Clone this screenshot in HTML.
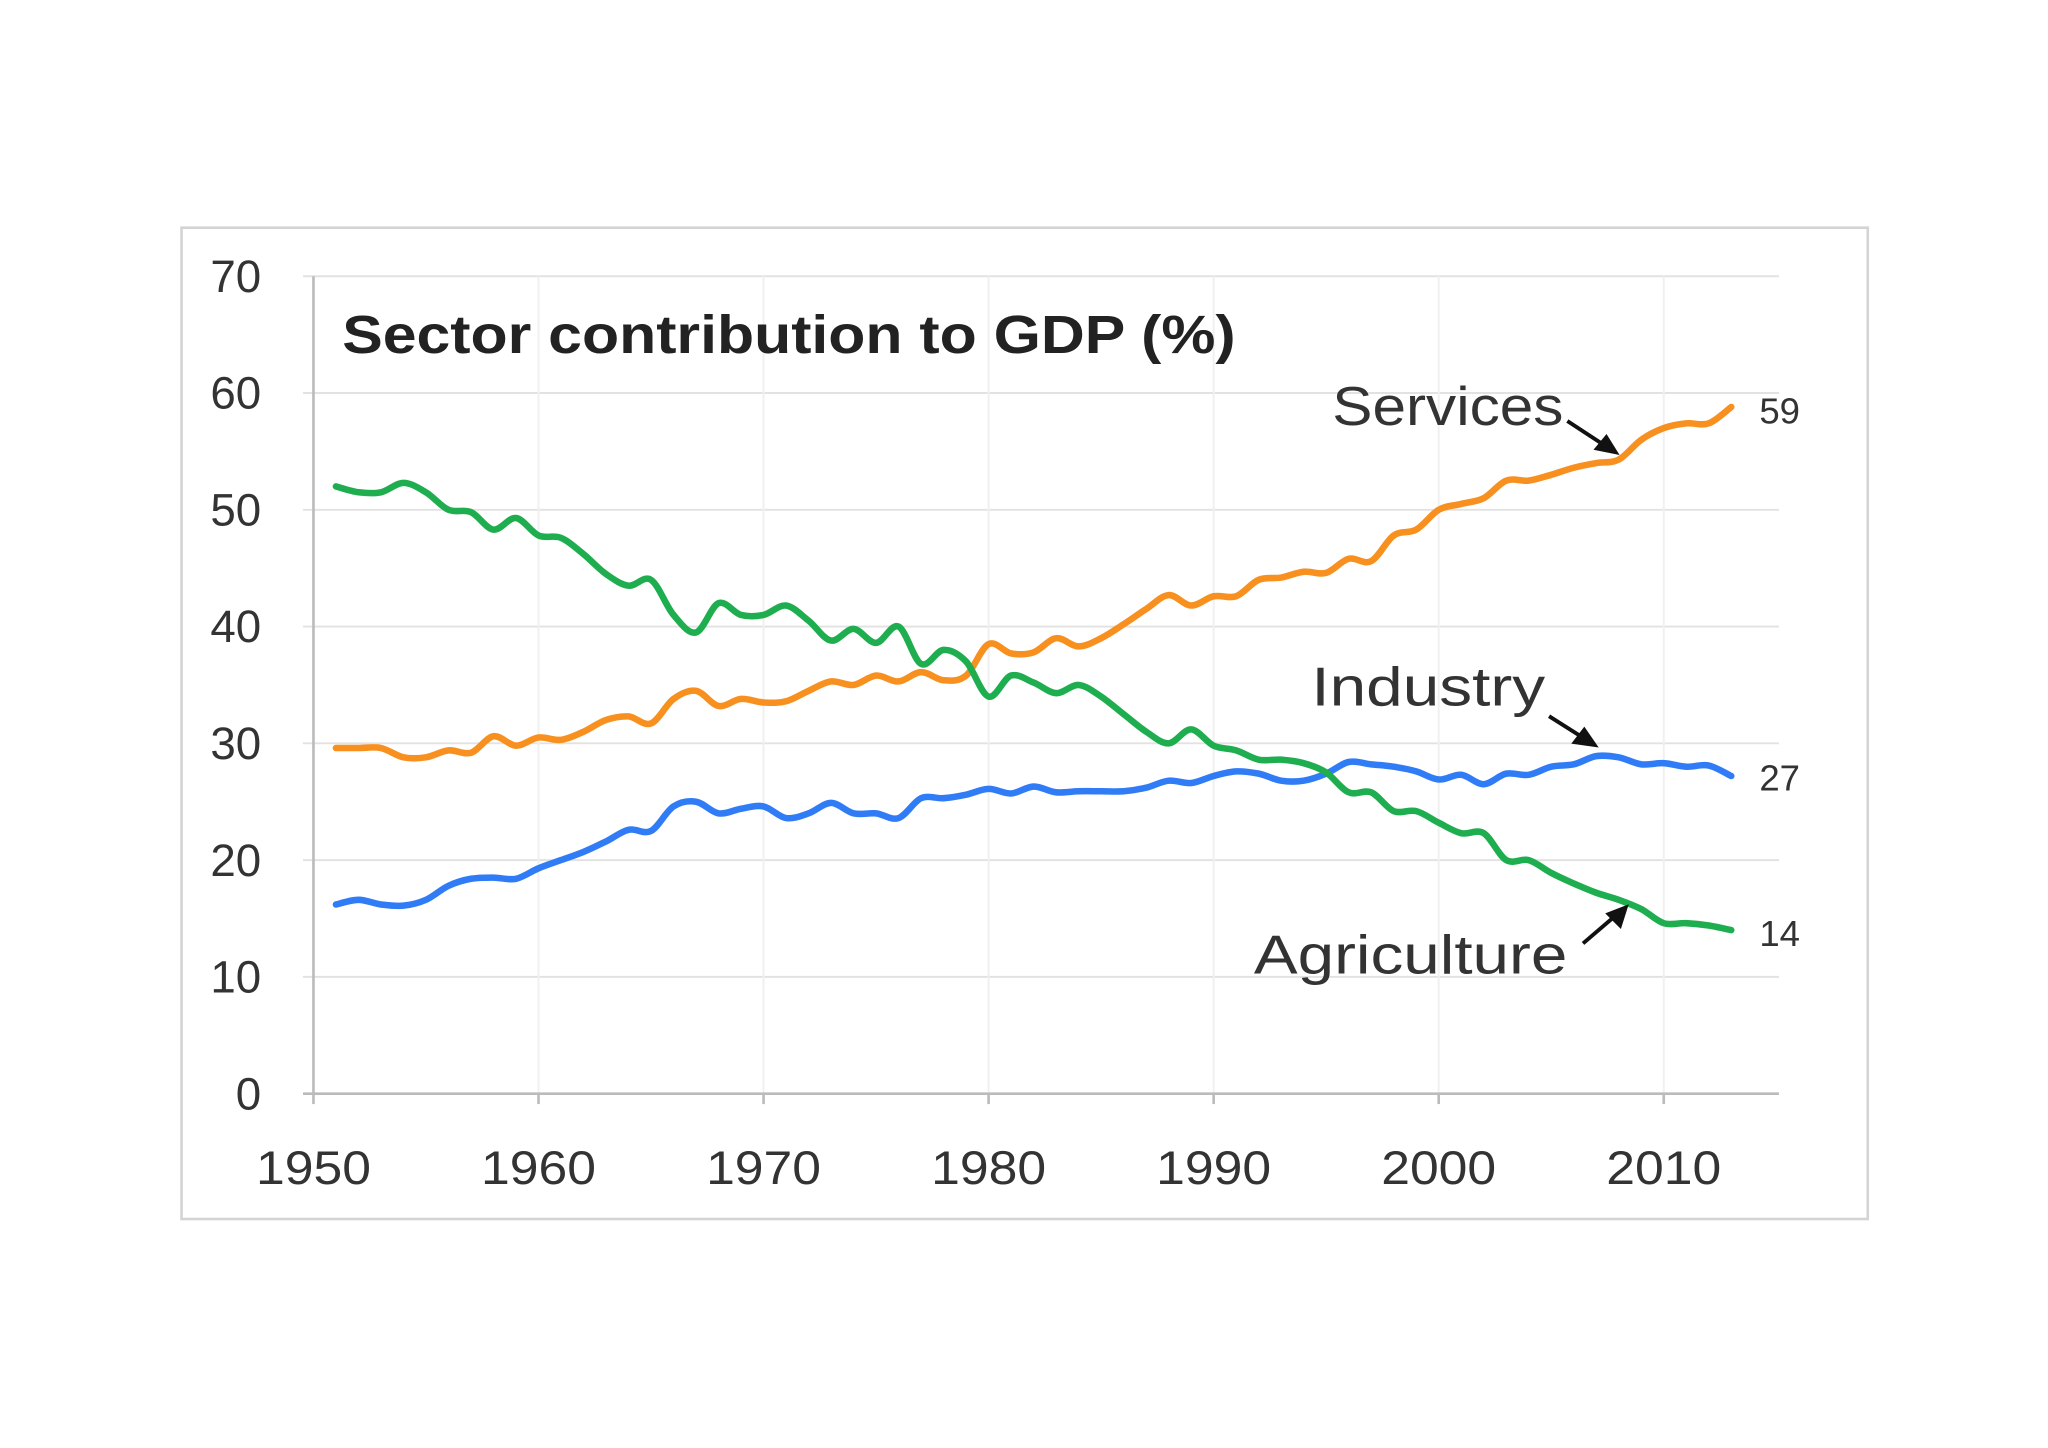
<!DOCTYPE html>
<html><head><meta charset="utf-8"><style>
html,body{margin:0;padding:0;background:#fff;}
svg{display:block;font-family:"Liberation Sans",sans-serif;}
</style></head><body>
<svg id="chart" width="2048" height="1448" viewBox="0 0 1568 1108" xmlns="http://www.w3.org/2000/svg">
<rect x="0" y="0" width="1568" height="1108" fill="#fff"/>
<rect x="139" y="174" width="1291" height="759" fill="#fff" stroke="#d4d4d4" stroke-width="2"/>
<g id="grid"></g>
<g id="axes"></g>
<g id="series"></g>
<text x="262" y="270" font-size="41" font-weight="bold" fill="#222" textLength="684" lengthAdjust="spacingAndGlyphs">Sector contribution to GDP (%)</text>
<g>
<text x="1020" y="325" font-size="42" fill="#333" textLength="177" lengthAdjust="spacingAndGlyphs">Services</text>
<line x1="1200" y1="322" x2="1232" y2="343" stroke="#111" stroke-width="3"/>
<polygon points="1240,348 1220,344 1230,332" fill="#111"/>
</g>
<g>
<text x="1004" y="540" font-size="42" fill="#333" textLength="179" lengthAdjust="spacingAndGlyphs">Industry</text>
<line x1="1186" y1="548" x2="1216" y2="567" stroke="#111" stroke-width="3"/>
<polygon points="1224,572 1203,569 1213,556" fill="#111"/>
</g>
<g>
<text x="960" y="745" font-size="42" fill="#333" textLength="240" lengthAdjust="spacingAndGlyphs">Agriculture</text>
<line x1="1212" y1="722" x2="1240" y2="698" stroke="#111" stroke-width="3"/>
<polygon points="1247,692 1241,711 1229,699" fill="#111"/>
</g>
<text x="1347" y="324" font-size="28" fill="#333">59</text>
<text x="1347" y="605" font-size="28" fill="#333">27</text>
<text x="1347" y="724" font-size="28" fill="#333">14</text>
</svg>
<script>
const years = [];
for (let y = 1951; y <= 2013; y++) years.push(y);
const agriculture = [52,51.5,51.5,52.3,51.5,50,49.8,48.3,49.3,47.8,47.6,46.2,44.5,43.5,44,41,39.5,42,41,41,41.8,40.5,38.8,39.8,38.6,40,36.8,38,37,34,35.8,35.2,34.3,35,34,32.5,31,30,31.2,29.8,29.4,28.6,28.6,28.3,27.5,25.8,25.8,24.2,24.2,23.2,22.3,22.3,20,20,18.9,18,17.2,16.6,15.8,14.6,14.6,14.4,14];
const services = [29.6,29.6,29.6,28.8,28.8,29.4,29.2,30.6,29.8,30.5,30.3,31,32,32.3,31.7,33.8,34.5,33.2,33.8,33.5,33.6,34.5,35.3,35,35.8,35.3,36.1,35.4,35.8,38.5,37.7,37.8,39,38.3,39,40.2,41.5,42.7,41.8,42.6,42.6,44,44.2,44.7,44.6,45.8,45.6,47.8,48.3,50,50.5,51,52.5,52.5,53,53.6,54,54.3,56,57,57.4,57.4,58.8];
const industry = [16.2,16.6,16.2,16.1,16.6,17.8,18.4,18.5,18.4,19.3,20,20.7,21.6,22.6,22.5,24.6,25,24,24.4,24.6,23.6,24,24.9,24,24,23.6,25.3,25.3,25.6,26.1,25.7,26.3,25.8,25.9,25.9,25.9,26.2,26.8,26.6,27.2,27.6,27.4,26.8,26.8,27.4,28.4,28.2,28,27.6,26.9,27.3,26.5,27.4,27.3,28,28.2,28.9,28.8,28.2,28.3,28,28.1,27.2];
const yTicks = [0,10,20,30,40,50,60,70];
const xTicks = [1950,1960,1970,1980,1990,2000,2010];

const NS = "http://www.w3.org/2000/svg";
const xs = yr => 240 + (yr - 1950) * 17.23;
const ys = v => 837 - v * 8.94;
function mk(tag, attrs, parent) {
  const e = document.createElementNS(NS, tag);
  for (const k in attrs) e.setAttribute(k, attrs[k]);
  parent.appendChild(e);
  return e;
}
const grid = document.getElementById('grid'), axes = document.getElementById('axes'), series = document.getElementById('series');
yTicks.forEach(t => {
  if (t > 0) {
    const l = mk('line', {x1: 232, x2: 1362, y1: ys(t), y2: ys(t), stroke: '#e2e2e2', 'stroke-width': 1.5}, grid);
    
    
  }
  const tx = mk('text', {x: 200, y: ys(t) + 12, 'font-size': 35, fill: '#333', 'text-anchor': 'end'}, axes);
  tx.textContent = t;
  
  
});
xTicks.forEach(t => {
  if (t > 1950) {
    const l = mk('line', {x1: xs(t), x2: xs(t), y1: ys(70), y2: ys(0), stroke: '#f0f0f0', 'stroke-width': 1.5}, grid);
    
    
  }
  const tk = mk('line', {x1: xs(t), x2: xs(t), y1: ys(0), y2: ys(0) + 8, stroke: '#bbb', 'stroke-width': 2}, axes);
  
  
  const tx = mk('text', {x: xs(t) - 44, y: 906, 'font-size': 36, fill: '#333', textLength: 88, lengthAdjust: 'spacingAndGlyphs'}, axes);
  tx.textContent = t;
  
  
});
const ya = mk('line', {x1: 240, x2: 240, y1: ys(70), y2: ys(0), stroke: '#bbb', 'stroke-width': 2}, axes);


const xa = mk('line', {x1: 232, x2: 1362, y1: ys(0), y2: ys(0), stroke: '#bbb', 'stroke-width': 2}, axes);


function drawLine(vals, color, name) {
  const pts = vals.map((v, i) => [xs(years[i]), ys(v)]);
  let d = 'M' + pts[0][0].toFixed(1) + ',' + pts[0][1].toFixed(1);
  for (let i = 0; i < pts.length - 1; i++) {
    const p0 = pts[Math.max(0, i - 1)], p1 = pts[i], p2 = pts[i + 1], p3 = pts[Math.min(pts.length - 1, i + 2)];
    const c1x = p1[0] + (p2[0] - p0[0]) / 6, c1y = p1[1] + (p2[1] - p0[1]) / 6;
    const c2x = p2[0] - (p3[0] - p1[0]) / 6, c2y = p2[1] - (p3[1] - p1[1]) / 6;
    d += ' C' + c1x.toFixed(1) + ',' + c1y.toFixed(1) + ' ' + c2x.toFixed(1) + ',' + c2y.toFixed(1) + ' ' + p2[0].toFixed(1) + ',' + p2[1].toFixed(1);
  }
  const p = mk('path', {d: d, fill: 'none', stroke: color, 'stroke-width': 5, 'stroke-linejoin': 'round', 'stroke-linecap': 'round'}, series);
  
  
}
drawLine(industry, '#2f7cf6', 'industry-line');
drawLine(services, '#f7901e', 'services-line');
drawLine(agriculture, '#1fae4f', 'agriculture-line');
</script>
</body></html>
